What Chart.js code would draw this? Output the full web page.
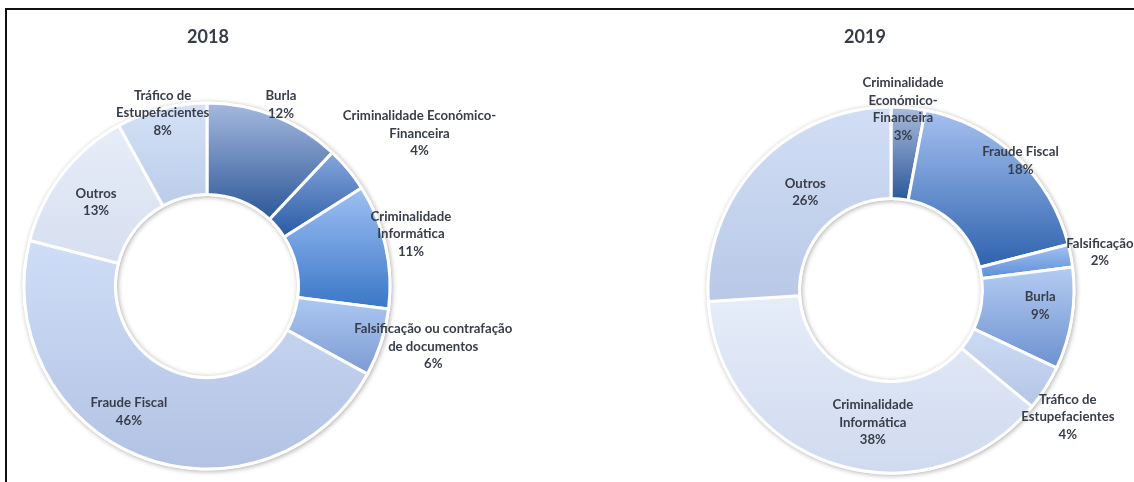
<!DOCTYPE html>
<html><head><meta charset="utf-8">
<script src="https://cdn.jsdelivr.net/npm/chart.js@4.4.1/dist/chart.umd.min.js"></script>
<style>
html,body{margin:0;padding:0;background:#fff;overflow:hidden;width:1134px;height:482px}
#frame{position:absolute;left:5px;top:8px;width:1140px;height:480px;border-top:2px solid #111;border-left:2px solid #111;box-sizing:border-box;pointer-events:none;z-index:5}
.wrap{position:absolute;top:0;height:482px}
#w1{left:0;width:560px}
#w2{left:560px;width:574px}
canvas{display:block}
</style></head><body>
<div class="wrap" id="w1"><canvas id="c1" width="560" height="482"></canvas></div>
<div class="wrap" id="w2"><canvas id="c2" width="574" height="482"></canvas></div>
<div id="frame"></div>
<script>
// ---------- data ----------
const title2018 = '2018';
const categories2018 = ['Burla', 'Criminalidade Económico-\nFinanceira', 'Criminalidade\nInformática', 'Falsificação ou contrafação\nde documentos', 'Fraude Fiscal', 'Outros', 'Tráfico de\nEstupefacientes'];
const values2018 = [12, 4, 11, 6, 46, 13, 8];

const title2019 = '2019';
const categories2019 = ['Criminalidade\nEconómico-\nFinanceira', 'Fraude Fiscal', 'Falsificação', 'Burla', 'Tráfico de\nEstupefacientes', 'Criminalidade\nInformática', 'Outros'];
const values2019 = [3, 18, 2, 9, 4, 38, 26];

// ---------- styles ----------
const topColors2018 = ['#a6b9df', '#86a7de', '#9ec0f3', '#acc8f3', '#cfddf7', '#e7edf8', '#d4e1f7'];
const bottomColors2018 = ['#2c5797', '#2a5aa4', '#3a76c7', '#7d9bd3', '#b2c2e3', '#d6dff0', '#bccce9'];
const topColors2019 = ['#aabbdd', '#a6c1f0', '#a3c2f1', '#b4ccf3', '#cddcf4', '#e6edf9', '#d2def5'];
const bottomColors2019 = ['#2c5899', '#2e62ae', '#5d8dd7', '#6d91cf', '#b4c5e6', '#d0daef', '#b8c8e6'];

// label placement: [radius factor of outer radius, angle shift in degrees]
const labelPlacement2018 = [[1.07, 0.6], [1.43, 3.9], [1.15, -1.7], [1.28, -3], [0.81, 10.2], [0.76, -0.7], [0.975, 0]];
const labelPlacement2019 = [[0.99, -1.6], [1.0, 1.8], [1.16, 0.5], [0.82, -2.9], [1.19, 3.3], [0.73, -10.2], [0.71, 5.5]];

const FONT = 'Lato, "Open Sans", sans-serif';
const TEXT_COLOR = '#383e49';

function yRange(el) {
  const a0 = el.startAngle, a1 = el.endAngle, ri = el.innerRadius, ro = el.outerRadius;
  const ys = [ri * Math.sin(a0), ri * Math.sin(a1), ro * Math.sin(a0), ro * Math.sin(a1)];
  for (let k = -2; k <= 2; k++) {
    const t = -Math.PI / 2 + 2 * Math.PI * k;
    if (t >= a0 && t <= a1) ys.push(-ro);
    const b = Math.PI / 2 + 2 * Math.PI * k;
    if (b >= a0 && b <= a1) ys.push(ro);
  }
  return [el.y + Math.min(...ys), el.y + Math.max(...ys)];
}

function gradientFill(tops, bottoms) {
  return function (ctx) {
    if (ctx.type !== 'data') return tops[0];
    const i = ctx.dataIndex;
    const el = ctx.chart.getDatasetMeta(ctx.datasetIndex).data[i];
    if (!el || !isFinite(el.outerRadius) || !isFinite(el.startAngle) || !isFinite(el.y)) return bottoms[i];
    const [y0, y1] = yRange(el);
    if (!(y1 > y0)) return bottoms[i];
    const g = ctx.chart.ctx.createLinearGradient(0, y0, 0, y1);
    g.addColorStop(0, tops[i]);
    g.addColorStop(1, bottoms[i]);
    return g;
  };
}

const ringShadow = {
  id: 'ringShadow',
  beforeDatasetsDraw(chart) {
    const el = chart.getDatasetMeta(0).data[0];
    if (!el || !isFinite(el.outerRadius)) return;
    const c = chart.ctx;
    c.save();
    c.shadowColor = 'rgba(0,0,0,0.32)';
    c.shadowBlur = 5;
    c.shadowOffsetX = 1;
    c.shadowOffsetY = 1;
    c.fillStyle = '#fff';
    c.beginPath();
    c.arc(el.x, el.y, el.outerRadius + 1.5, 0, Math.PI * 2);
    c.arc(el.x, el.y, Math.max(el.innerRadius - 1.5, 0), 0, Math.PI * 2, true);
    c.fill();
    c.restore();
  }
};

const sliceLabels = {
  id: 'sliceLabels',
  afterDatasetsDraw(chart, args, opts) {
    const meta = chart.getDatasetMeta(0);
    const data = chart.data.datasets[0].data;
    const total = data.reduce((a, b) => a + b, 0);
    const c = chart.ctx;
    c.save();
    c.font = 'bold ' + opts.size + 'px ' + FONT;
    c.fillStyle = TEXT_COLOR;
    c.textAlign = 'center';
    c.textBaseline = 'middle';
    meta.data.forEach((arc, i) => {
      const [f, sh] = opts.placement[i];
      const a = (arc.startAngle + arc.endAngle) / 2 + sh * Math.PI / 180;
      const r = arc.outerRadius * f;
      const x = arc.x + Math.cos(a) * r;
      const y = arc.y + Math.sin(a) * r;
      const lines = opts.names[i].split('\n').concat([Math.round(data[i] / total * 100) + '%']);
      lines.forEach((t, k) => c.fillText(t, x, y + (k - (lines.length - 1) / 2) * opts.lineHeight));
    });
    c.restore();
  }
};

const yearTitle = {
  id: 'yearTitle',
  afterDraw(chart, args, opts) {
    const c = chart.ctx;
    c.save();
    c.font = 'bold 18px ' + FONT;
    c.fillStyle = '#363c47';
    c.textAlign = 'center';
    c.textBaseline = 'middle';
    c.fillText(opts.text, opts.x, opts.y);
    c.restore();
  }
};

function makeChart(id, names, values, tops, bottoms, placement, title, titleX, padding) {
  const chart = new Chart(document.getElementById(id), {
    type: 'doughnut',
    data: {
      labels: names.map(n => n.replace(/\n/g, ' ')),
      datasets: [{
        data: values,
        backgroundColor: gradientFill(tops, bottoms),
        borderColor: '#ffffff',
        borderWidth: 3,
        hoverOffset: 0
      }]
    },
    options: {
      responsive: false,
      maintainAspectRatio: false,
      animation: false,
      events: [],
      cutout: '50%',
      layout: { padding: padding },
      plugins: {
        legend: { display: false },
        tooltip: { enabled: false },
        title: { display: false },
        sliceLabels: { names: names, placement: placement, size: 13.2, lineHeight: 17.5 },
        yearTitle: { text: title, x: titleX, y: 37 }
      }
    },
    plugins: [ringShadow, sliceLabels, yearTitle]
  });
  chart.update();
  return chart;
}

makeChart('c1', categories2018, values2018, topColors2018, bottomColors2018, labelPlacement2018, title2018, 208,
  { left: 22.5, right: 168.5, top: 101.5, bottom: 11.5 });
makeChart('c2', categories2019, values2019, topColors2019, bottomColors2019, labelPlacement2019, title2019, 305,
  { left: 146.5, right: 58.5, top: 105.5, bottom: 7.5 });
</script>
</body></html>
